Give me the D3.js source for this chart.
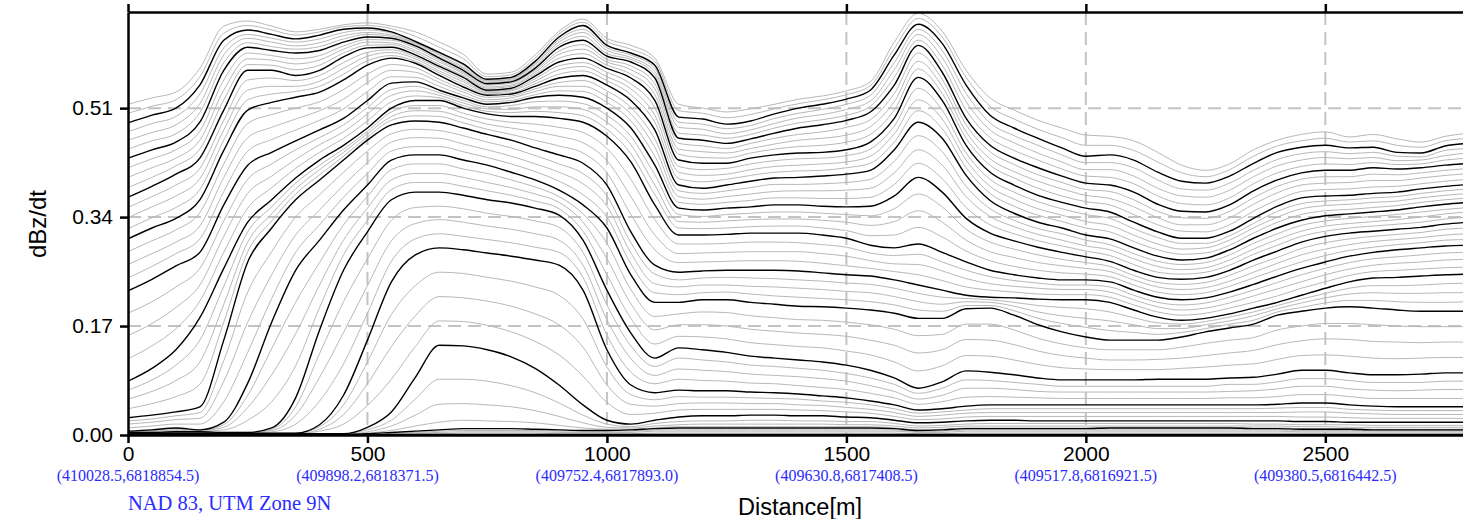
<!DOCTYPE html>
<html><head><meta charset="utf-8">
<script src="https://cdn.jsdelivr.net/npm/d3@7"></script>
<style>html,body{margin:0;padding:0;background:#fff;overflow:hidden;}</style>
</head><body>
<svg id="chart" width="1463" height="519"></svg>
<script>
const distance = [0,50,100,150,200,250,300,350,400,450,500,550,600,650,700,750,800,850,900,950,1000,1050,1100,1150,1200,1250,1300,1350,1400,1450,1500,1550,1600,1650,1700,1750,1800,1850,1900,1950,2000,2050,2100,2150,2200,2250,2300,2350,2400,2450,2500,2550,2600,2650,2700,2750,2800];
const yTicks = [0, 0.17, 0.34, 0.51];
const xTicks = [0, 500, 1000, 1500, 2000, 2500];
const utmLabels = ["(410028.5,6818854.5)","(409898.2,6818371.5)","(409752.4,6817893.0)","(409630.8,6817408.5)","(409517.8,6816921.5)","(409380.5,6816442.5)"];

const ch01 = [.516,.526,.535,.572,.638,.646,.638,.629,.633,.640,.643,.638,.629,.613,.594,.563,.566,.593,.630,.649,.619,.608,.588,.516,.510,.504,.509,.516,.524,.529,.537,.551,.613,.658,.630,.569,.526,.507,.491,.479,.468,.466,.459,.441,.421,.413,.423,.445,.460,.469,.473,.465,.469,.462,.457,.466,.471];
const ch02 = [.502,.513,.523,.559,.627,.639,.632,.624,.629,.637,.639,.634,.622,.605,.587,.559,.562,.588,.626,.644,.614,.602,.583,.506,.502,.495,.500,.509,.517,.523,.531,.545,.603,.650,.621,.558,.513,.493,.477,.464,.452,.452,.444,.426,.409,.403,.414,.435,.451,.459,.463,.457,.459,.452,.449,.459,.463];
const ch03 = [.487,.499,.510,.546,.616,.632,.625,.618,.624,.633,.635,.629,.614,.597,.579,.555,.558,.583,.621,.639,.608,.596,.577,.496,.493,.485,.490,.501,.510,.516,.524,.538,.593,.641,.611,.546,.499,.479,.463,.448,.435,.437,.429,.410,.396,.393,.404,.424,.441,.449,.452,.448,.449,.441,.440,.451,.455];
const ch04 = [.473,.486,.497,.532,.604,.625,.619,.613,.618,.628,.632,.627,.612,.595,.577,.553,.556,.580,.617,.633,.604,.593,.572,.488,.485,.478,.483,.494,.502,.508,.516,.530,.581,.633,.600,.533,.487,.467,.452,.437,.425,.425,.417,.398,.384,.382,.393,.413,.430,.439,.442,.439,.441,.435,.434,.444,.447];
const ch05 = [.460,.472,.484,.517,.593,.619,.613,.607,.612,.623,.628,.624,.611,.593,.574,.552,.555,.578,.613,.628,.600,.589,.567,.480,.477,.470,.476,.486,.495,.500,.508,.521,.570,.625,.589,.520,.476,.456,.440,.426,.414,.414,.404,.385,.373,.371,.382,.403,.420,.429,.433,.431,.433,.428,.429,.436,.440];
const ch06 = [.446,.459,.470,.503,.581,.612,.606,.602,.606,.618,.625,.622,.609,.590,.572,.550,.553,.575,.609,.622,.595,.586,.562,.471,.468,.463,.469,.479,.487,.492,.499,.513,.558,.616,.577,.507,.464,.444,.429,.415,.404,.402,.392,.373,.361,.359,.370,.392,.409,.419,.423,.422,.425,.422,.423,.429,.432];
const ch07 = [.432,.445,.457,.488,.569,.605,.600,.596,.600,.613,.621,.619,.607,.588,.569,.548,.551,.572,.605,.616,.591,.582,.557,.463,.460,.455,.462,.471,.479,.484,.491,.504,.546,.608,.566,.494,.452,.432,.417,.404,.393,.390,.379,.360,.349,.348,.359,.381,.398,.409,.413,.413,.417,.415,.417,.421,.424];
const ch08 = [.417,.431,.445,.474,.554,.596,.592,.587,.592,.607,.617,.616,.604,.585,.566,.546,.549,.569,.599,.609,.586,.576,.548,.455,.451,.447,.455,.463,.469,.473,.480,.492,.533,.596,.555,.484,.442,.422,.406,.394,.383,.380,.367,.349,.339,.338,.349,.370,.388,.399,.403,.403,.407,.406,.409,.413,.416];
const ch09 = [.402,.417,.432,.460,.538,.587,.585,.579,.585,.602,.613,.612,.600,.582,.564,.543,.546,.566,.594,.602,.582,.570,.540,.446,.442,.440,.447,.454,.460,.463,.468,.481,.520,.583,.544,.473,.431,.411,.396,.384,.374,.369,.356,.339,.328,.328,.339,.360,.378,.390,.393,.394,.397,.397,.401,.405,.408];
const ch10 = [.386,.402,.420,.446,.523,.578,.577,.570,.577,.596,.608,.609,.597,.578,.561,.541,.544,.563,.588,.595,.577,.563,.531,.438,.433,.432,.440,.446,.450,.452,.457,.469,.507,.571,.533,.463,.421,.401,.385,.373,.364,.359,.344,.328,.318,.317,.328,.349,.367,.380,.383,.384,.387,.388,.392,.396,.399];
const ch11 = [.371,.388,.407,.432,.507,.569,.569,.561,.569,.590,.604,.605,.593,.575,.558,.538,.541,.560,.582,.588,.572,.557,.522,.429,.424,.424,.432,.437,.440,.441,.445,.457,.494,.558,.522,.452,.410,.390,.374,.363,.354,.348,.332,.317,.307,.307,.318,.338,.357,.370,.373,.374,.377,.379,.384,.388,.391];
const ch12 = [.355,.372,.390,.416,.491,.554,.557,.553,.561,.581,.597,.601,.590,.572,.554,.536,.539,.556,.576,.581,.566,.548,.511,.419,.414,.416,.423,.428,.431,.432,.436,.446,.482,.541,.507,.440,.399,.379,.364,.353,.344,.338,.322,.308,.299,.299,.311,.330,.349,.361,.365,.367,.370,.372,.377,.381,.384];
const ch13 = [.339,.356,.373,.400,.476,.538,.544,.544,.552,.572,.591,.597,.587,.568,.551,.534,.537,.552,.570,.575,.559,.540,.499,.410,.405,.407,.414,.419,.421,.423,.426,.435,.470,.523,.493,.429,.388,.368,.353,.343,.333,.327,.312,.298,.290,.292,.304,.323,.340,.353,.358,.360,.363,.365,.370,.374,.377];
const ch14 = [.322,.339,.355,.383,.460,.523,.532,.536,.544,.563,.584,.592,.583,.565,.547,.532,.534,.548,.563,.568,.553,.531,.488,.400,.395,.399,.405,.410,.412,.413,.417,.424,.457,.506,.478,.417,.377,.357,.343,.333,.323,.317,.302,.289,.282,.284,.296,.315,.332,.344,.350,.352,.355,.358,.363,.367,.370];
const ch15 = [.306,.323,.338,.367,.444,.507,.519,.527,.535,.554,.577,.588,.580,.561,.543,.530,.532,.544,.557,.561,.546,.522,.476,.390,.385,.390,.396,.401,.402,.404,.407,.413,.445,.488,.463,.405,.366,.346,.332,.323,.312,.306,.292,.279,.273,.276,.289,.307,.323,.335,.342,.345,.348,.351,.356,.360,.363];
const ch16 = [.286,.303,.320,.347,.423,.486,.500,.510,.520,.539,.563,.578,.573,.555,.539,.527,.529,.540,.550,.553,.537,.511,.462,.381,.377,.381,.386,.391,.391,.392,.394,.399,.427,.467,.442,.388,.353,.335,.322,.314,.304,.297,.283,.271,.266,.269,.281,.299,.314,.327,.334,.338,.341,.344,.348,.352,.355];
const ch17 = [.266,.283,.301,.326,.402,.464,.480,.493,.506,.524,.550,.569,.566,.550,.535,.523,.526,.536,.544,.544,.528,.501,.449,.372,.368,.372,.376,.380,.381,.381,.382,.385,.409,.445,.421,.372,.341,.325,.313,.304,.295,.289,.275,.263,.258,.261,.273,.290,.305,.318,.326,.330,.333,.336,.340,.345,.348];
const ch18 = [.245,.263,.283,.306,.380,.443,.461,.476,.491,.509,.536,.559,.558,.544,.530,.520,.522,.531,.537,.536,.519,.490,.435,.363,.360,.363,.366,.370,.370,.369,.369,.371,.391,.424,.400,.355,.328,.314,.303,.295,.287,.280,.266,.254,.251,.254,.265,.282,.296,.310,.318,.323,.326,.329,.332,.337,.340];
const ch19 = [.225,.243,.264,.285,.359,.421,.441,.459,.476,.494,.522,.549,.551,.538,.526,.516,.519,.527,.530,.527,.510,.479,.421,.354,.351,.354,.356,.359,.359,.357,.356,.357,.373,.402,.379,.338,.315,.303,.293,.285,.278,.271,.257,.246,.243,.246,.257,.273,.287,.301,.310,.315,.318,.321,.324,.329,.332];
const ch20 = [.190,.208,.231,.260,.334,.399,.423,.445,.464,.484,.511,.539,.544,.534,.522,.512,.514,.520,.521,.517,.499,.466,.406,.344,.341,.344,.346,.348,.348,.346,.344,.342,.353,.376,.356,.321,.301,.290,.281,.274,.269,.263,.249,.238,.235,.238,.249,.264,.277,.291,.300,.306,.310,.313,.316,.321,.323];
const ch21 = [.155,.174,.199,.234,.310,.377,.404,.430,.453,.473,.501,.530,.537,.530,.518,.509,.508,.512,.512,.508,.488,.453,.390,.333,.332,.334,.336,.337,.337,.335,.332,.327,.333,.350,.332,.304,.286,.277,.269,.264,.260,.255,.242,.231,.227,.230,.240,.254,.268,.281,.290,.297,.302,.305,.308,.312,.314];
const ch22 = [.119,.139,.166,.209,.285,.354,.386,.416,.441,.463,.490,.520,.529,.526,.514,.505,.503,.505,.503,.498,.477,.439,.375,.323,.322,.323,.325,.326,.326,.323,.319,.311,.312,.324,.309,.287,.272,.263,.257,.253,.251,.247,.234,.223,.219,.222,.232,.245,.258,.270,.280,.288,.293,.297,.300,.304,.305];
const ch23 = [.084,.104,.133,.183,.260,.332,.367,.401,.429,.452,.479,.510,.522,.522,.510,.501,.497,.497,.494,.488,.466,.426,.359,.312,.312,.313,.315,.315,.315,.312,.307,.296,.292,.298,.285,.270,.257,.250,.245,.242,.242,.239,.226,.215,.211,.214,.223,.235,.248,.260,.270,.279,.285,.289,.292,.295,.296];
const ch24 = [.070,.086,.109,.148,.232,.317,.356,.393,.421,.446,.474,.504,.514,.514,.502,.493,.488,.485,.480,.472,.447,.399,.336,.298,.298,.299,.301,.301,.300,.297,.293,.284,.280,.282,.270,.257,.247,.241,.237,.234,.234,.231,.218,.207,.203,.206,.215,.226,.238,.250,.260,.269,.275,.278,.281,.284,.285];
const ch25 = [.056,.068,.085,.114,.204,.301,.345,.384,.414,.441,.470,.497,.506,.505,.495,.485,.479,.473,.466,.456,.428,.372,.312,.283,.284,.285,.286,.286,.286,.283,.279,.272,.267,.266,.256,.244,.236,.232,.229,.227,.227,.223,.211,.200,.195,.198,.206,.217,.228,.239,.250,.259,.265,.268,.270,.273,.274];
const ch26 = [.041,.049,.060,.079,.176,.286,.334,.376,.406,.435,.465,.491,.498,.497,.487,.477,.469,.460,.451,.440,.409,.344,.289,.269,.270,.271,.272,.272,.271,.268,.264,.260,.255,.250,.241,.231,.226,.223,.220,.219,.219,.215,.203,.192,.187,.190,.198,.207,.217,.229,.239,.249,.255,.257,.259,.261,.262];
const ch27 = [.027,.031,.036,.044,.148,.270,.323,.367,.398,.429,.460,.484,.490,.488,.479,.469,.460,.448,.437,.424,.390,.317,.265,.254,.256,.257,.257,.257,.256,.253,.250,.248,.242,.234,.226,.218,.215,.214,.212,.211,.211,.207,.195,.184,.179,.182,.189,.198,.207,.218,.229,.239,.245,.246,.248,.250,.251];
const ch28 = [.022,.025,.030,.035,.116,.223,.286,.340,.375,.410,.443,.470,.477,.475,.467,.457,.448,.436,.423,.408,.373,.300,.251,.242,.245,.246,.245,.244,.242,.240,.237,.235,.229,.221,.215,.213,.211,.207,.202,.199,.197,.192,.183,.175,.173,.177,.184,.192,.202,.212,.221,.229,.233,.233,.234,.236,.237];
const ch29 = [.017,.020,.024,.026,.084,.176,.250,.312,.351,.390,.425,.457,.464,.463,.454,.445,.435,.423,.410,.392,.357,.284,.236,.231,.234,.234,.232,.231,.229,.227,.224,.222,.216,.208,.204,.208,.207,.201,.192,.186,.182,.178,.172,.166,.166,.172,.178,.186,.197,.206,.214,.220,.222,.221,.221,.222,.222];
const ch30 = [.011,.014,.017,.017,.052,.129,.213,.285,.328,.371,.408,.443,.450,.450,.442,.433,.423,.411,.396,.375,.340,.267,.222,.219,.222,.223,.220,.217,.215,.213,.211,.208,.203,.195,.193,.202,.202,.194,.182,.174,.168,.163,.160,.157,.160,.166,.173,.179,.192,.199,.206,.210,.210,.208,.207,.207,.208];
const ch31 = [.006,.008,.011,.008,.020,.081,.176,.257,.304,.351,.390,.429,.437,.437,.429,.421,.410,.398,.382,.359,.323,.250,.207,.207,.211,.211,.207,.204,.201,.200,.198,.195,.190,.182,.182,.197,.198,.187,.172,.161,.153,.148,.148,.148,.153,.161,.167,.173,.187,.193,.198,.200,.198,.195,.193,.193,.193];
const ch32 = [.005,.007,.010,.007,.016,.062,.135,.207,.269,.328,.372,.414,.423,.423,.415,.408,.398,.387,.372,.345,.299,.227,.185,.189,.192,.191,.186,.183,.180,.179,.176,.172,.165,.155,.157,.173,.173,.164,.151,.142,.136,.133,.133,.133,.137,.143,.148,.152,.164,.170,.174,.174,.172,.170,.169,.169,.169];
const ch33 = [.005,.006,.008,.007,.012,.043,.094,.158,.234,.304,.354,.398,.408,.408,.402,.394,.386,.376,.363,.332,.275,.205,.164,.172,.172,.170,.165,.162,.159,.157,.154,.148,.140,.128,.133,.149,.148,.141,.131,.124,.120,.117,.117,.118,.120,.124,.128,.132,.141,.147,.150,.149,.146,.145,.144,.145,.145];
const ch34 = [.004,.005,.007,.006,.008,.023,.052,.108,.199,.281,.335,.383,.394,.394,.388,.381,.374,.365,.353,.318,.250,.182,.142,.154,.153,.150,.144,.141,.138,.136,.131,.125,.114,.100,.108,.124,.123,.117,.110,.105,.103,.102,.102,.102,.104,.106,.109,.111,.118,.124,.125,.123,.120,.119,.120,.121,.121];
const ch35 = [.004,.004,.005,.005,.004,.004,.011,.058,.164,.257,.317,.367,.379,.379,.374,.367,.362,.354,.343,.304,.226,.159,.120,.136,.133,.129,.123,.120,.117,.114,.109,.101,.089,.073,.083,.100,.098,.094,.089,.086,.086,.086,.086,.087,.087,.087,.089,.090,.095,.101,.101,.097,.094,.094,.095,.097,.097];
const ch36 = [.004,.004,.005,.005,.004,.004,.009,.044,.127,.208,.275,.335,.355,.357,.353,.346,.341,.334,.324,.285,.203,.139,.107,.120,.117,.114,.109,.107,.104,.101,.096,.089,.079,.065,.073,.086,.085,.082,.079,.076,.076,.076,.076,.076,.076,.076,.079,.079,.083,.088,.088,.085,.082,.082,.082,.084,.084];
const ch37 = [.004,.004,.004,.004,.004,.004,.007,.031,.090,.160,.233,.303,.330,.336,.332,.326,.321,.314,.304,.265,.180,.119,.093,.103,.101,.099,.095,.093,.091,.088,.084,.077,.068,.056,.062,.073,.073,.071,.068,.067,.067,.067,.067,.067,.067,.067,.068,.069,.072,.076,.076,.072,.070,.069,.070,.071,.071];
const ch38 = [.003,.003,.004,.004,.003,.003,.005,.017,.053,.111,.190,.271,.306,.314,.310,.305,.300,.293,.285,.246,.156,.098,.080,.087,.085,.084,.081,.080,.077,.074,.071,.065,.058,.048,.052,.059,.060,.059,.058,.057,.057,.057,.057,.057,.057,.057,.058,.058,.060,.063,.063,.060,.057,.057,.057,.057,.057];
const ch39 = [.003,.003,.003,.003,.003,.003,.003,.003,.016,.062,.148,.239,.281,.292,.289,.284,.279,.273,.265,.226,.133,.078,.066,.070,.069,.069,.067,.066,.064,.061,.058,.053,.047,.039,.041,.045,.047,.047,.047,.047,.047,.047,.047,.047,.047,.047,.047,.047,.048,.050,.050,.047,.045,.044,.044,.044,.044];
const ch40 = [.003,.003,.003,.003,.003,.003,.003,.003,.013,.047,.114,.188,.233,.254,.252,.246,.240,.231,.218,.181,.106,.063,.055,.060,.059,.059,.058,.057,.056,.053,.051,.047,.041,.034,.036,.039,.041,.041,.041,.041,.041,.041,.041,.041,.041,.041,.041,.041,.042,.043,.043,.040,.039,.038,.038,.038,.038];
const ch41 = [.002,.002,.002,.002,.002,.002,.002,.002,.009,.032,.080,.138,.186,.216,.214,.209,.201,.189,.172,.137,.078,.048,.045,.049,.050,.050,.049,.049,.047,.046,.043,.040,.035,.029,.031,.034,.035,.035,.035,.035,.035,.035,.035,.035,.035,.035,.035,.035,.035,.036,.036,.034,.033,.032,.032,.032,.032];
const ch42 = [.002,.002,.002,.002,.002,.002,.002,.002,.006,.017,.046,.087,.138,.178,.177,.171,.161,.146,.125,.092,.051,.032,.034,.039,.040,.040,.040,.040,.039,.038,.036,.034,.029,.024,.025,.028,.029,.029,.029,.029,.029,.029,.029,.029,.029,.029,.029,.029,.029,.028,.028,.027,.026,.026,.026,.026,.026];
const ch43 = [.002,.002,.002,.002,.002,.002,.002,.002,.002,.002,.012,.036,.090,.140,.139,.133,.122,.104,.078,.047,.023,.017,.023,.028,.030,.030,.031,.031,.030,.030,.028,.027,.023,.019,.020,.022,.023,.023,.022,.022,.022,.022,.022,.022,.022,.022,.022,.022,.022,.021,.021,.020,.020,.020,.020,.020,.020];
const ch44 = [.002,.002,.002,.002,.002,.002,.002,.002,.002,.002,.008,.023,.056,.087,.087,.084,.077,.066,.050,.031,.017,.013,.018,.021,.022,.022,.023,.023,.022,.022,.021,.021,.018,.014,.015,.017,.018,.018,.018,.018,.018,.018,.018,.018,.018,.018,.018,.017,.017,.016,.016,.016,.015,.015,.015,.015,.015];
const ch45 = [.001,.001,.001,.001,.001,.001,.001,.001,.001,.001,.005,.014,.031,.048,.049,.047,.044,.038,.029,.019,.012,.011,.014,.016,.017,.017,.017,.017,.017,.017,.016,.016,.014,.011,.012,.014,.014,.014,.014,.014,.014,.014,.014,.014,.014,.014,.014,.014,.014,.013,.013,.012,.012,.012,.012,.012,.012];
const ch46 = [.001,.001,.001,.001,.001,.001,.001,.001,.001,.001,.003,.007,.014,.020,.023,.022,.021,.019,.015,.011,.009,.009,.011,.013,.013,.013,.013,.013,.013,.013,.013,.013,.011,.008,.009,.011,.011,.011,.011,.011,.011,.012,.012,.012,.012,.012,.012,.011,.011,.010,.010,.010,.009,.009,.009,.009,.009];
const ch47 = [.001,.001,.001,.001,.001,.001,.001,.001,.001,.001,.002,.004,.006,.008,.010,.010,.010,.009,.008,.007,.007,.008,.010,.011,.011,.011,.011,.011,.011,.011,.011,.011,.010,.007,.008,.010,.010,.010,.010,.010,.010,.011,.011,.011,.011,.011,.011,.010,.010,.009,.009,.009,.008,.008,.008,.008,.008];
const ch48 = [.001,.001,.001,.001,.001,.001,.001,.001,.001,.001,.002,.003,.004,.006,.007,.007,.007,.007,.006,.006,.006,.006,.008,.008,.008,.008,.008,.008,.008,.008,.008,.008,.008,.005,.006,.008,.008,.008,.008,.008,.008,.008,.008,.008,.008,.008,.008,.008,.008,.007,.007,.007,.007,.007,.007,.007,.007];
const ch49 = [.001,.001,.001,.001,.001,.001,.001,.001,.001,.001,.001,.002,.003,.004,.005,.005,.005,.005,.004,.004,.004,.004,.006,.006,.006,.006,.006,.006,.006,.006,.006,.006,.006,.004,.004,.006,.006,.006,.006,.006,.006,.006,.006,.006,.006,.006,.006,.006,.006,.005,.005,.005,.005,.005,.005,.005,.005];
const ch50 = [.000,.000,.000,.000,.000,.000,.000,.000,.000,.000,.001,.001,.002,.002,.003,.003,.003,.003,.002,.002,.002,.002,.003,.003,.003,.003,.003,.003,.003,.003,.003,.003,.003,.002,.002,.003,.003,.003,.003,.003,.003,.003,.003,.003,.003,.003,.003,.003,.003,.003,.003,.003,.003,.003,.003,.003,.003];
const ch51 = [.000,.000,.000,.000,.000,.000,.000,.000,.000,.000,.000,.001,.001,.001,.001,.001,.001,.001,.001,.001,.001,.001,.001,.001,.001,.001,.001,.001,.001,.001,.001,.001,.001,.001,.001,.001,.001,.001,.001,.001,.001,.001,.001,.001,.001,.001,.001,.001,.001,.001,.001,.001,.001,.001,.001,.001,.001];

const channels = [ch01,ch02,ch03,ch04,ch05,ch06,ch07,ch08,ch09,ch10,ch11,ch12,ch13,ch14,ch15,ch16,ch17,ch18,ch19,ch20,ch21,ch22,ch23,ch24,ch25,ch26,ch27,ch28,ch29,ch30,ch31,ch32,ch33,ch34,ch35,ch36,ch37,ch38,ch39,ch40,ch41,ch42,ch43,ch44,ch45,ch46,ch47,ch48,ch49,ch50,ch51];
const boldChannels = [3,7,11,15,19,23,27,31,35,39,43,47,51];

const W = 1463, H = 519;
const x = d3.scaleLinear().domain([0, 2800]).range([128, 1469]);
const y = d3.scaleLinear().domain([0, 0.66]).range([435, 12]);
const svg = d3.select('#chart');
const sans = "'Liberation Sans', Arial, Helvetica, sans-serif";
const serif = "'Liberation Serif', 'Times New Roman', serif";

svg.append('defs').append('clipPath').attr('id','plot')
  .append('rect').attr('x',128).attr('y',12).attr('width',W-128).attr('height',423);

// grid
const grid = svg.append('g').attr('stroke','#c3c3c3').attr('stroke-width',2).attr('stroke-dasharray','13,7');
grid.selectAll('line.h').data(yTicks.filter(d => d > 0)).join('line').attr('class','h')
  .attr('x1',128).attr('x2',W).attr('y1',d=>y(d)).attr('y2',d=>y(d));
grid.selectAll('line.v').data(xTicks.filter(d => d > 0)).join('line').attr('class','v')
  .attr('x1',d=>x(d)).attr('x2',d=>x(d)).attr('y1',12).attr('y2',435);

// lines
const line = d3.line().x((d,i)=>x(distance[i])).y(d=>y(d)).curve(d3.curveMonotoneX);
const lg = svg.append('g').attr('clip-path','url(#plot)').attr('fill','none');
lg.selectAll('path.g').data(channels.filter((c,i)=>!boldChannels.includes(i+1))).join('path')
  .attr('class','g').attr('d',line).attr('stroke','#b8b8b8').attr('stroke-width',1);
lg.selectAll('path.b').data(channels.filter((c,i)=>boldChannels.includes(i+1))).join('path')
  .attr('class','b').attr('d',line).attr('stroke','#000').attr('stroke-width',1.4);

// axes
function styleAxis(g){
  g.selectAll('path.domain').attr('stroke','#000').attr('stroke-width',2.5);
  g.selectAll('.tick line').attr('stroke','#000').attr('stroke-width',2.5);
  g.selectAll('.tick text').attr('font-family',sans).attr('font-size',21).attr('fill','#000');
}
svg.append('g').attr('transform','translate(0,435)')
  .call(d3.axisBottom(x).tickValues(xTicks).tickFormat(d3.format('d')).tickSize(8).tickSizeOuter(0).tickPadding(3))
  .call(styleAxis);
svg.append('g').attr('transform','translate(0,12)')
  .call(d3.axisTop(x).tickValues(xTicks).tickFormat('').tickSize(8).tickSizeOuter(0))
  .call(styleAxis);
svg.append('g').attr('transform','translate(128,0)')
  .call(d3.axisLeft(y).tickValues(yTicks).tickFormat(d3.format('.2f')).tickSize(8).tickSizeOuter(0).tickPadding(7))
  .call(styleAxis);

// UTM labels
svg.append('g').selectAll('text').data(xTicks).join('text')
  .attr('x',d=>x(d)).attr('y',481).attr('text-anchor','middle')
  .attr('font-family',serif).attr('font-size',16).attr('fill','#2b2bff')
  .text((d,i)=>utmLabels[i]);
svg.append('text').attr('x',128).attr('y',510).attr('font-family',serif).attr('font-size',20.5)
  .attr('fill','#2b2bff').text('NAD 83, UTM Zone 9N');
svg.append('text').attr('x',800).attr('y',515).attr('text-anchor','middle')
  .attr('font-family',sans).attr('font-size',23.5).attr('fill','#000').text('Distance[m]');
svg.append('text').attr('transform','translate(46,224) rotate(-90)').attr('text-anchor','middle')
  .attr('font-family',sans).attr('font-size',24).attr('fill','#000').text('dBz/dt');
</script>
</body></html>
